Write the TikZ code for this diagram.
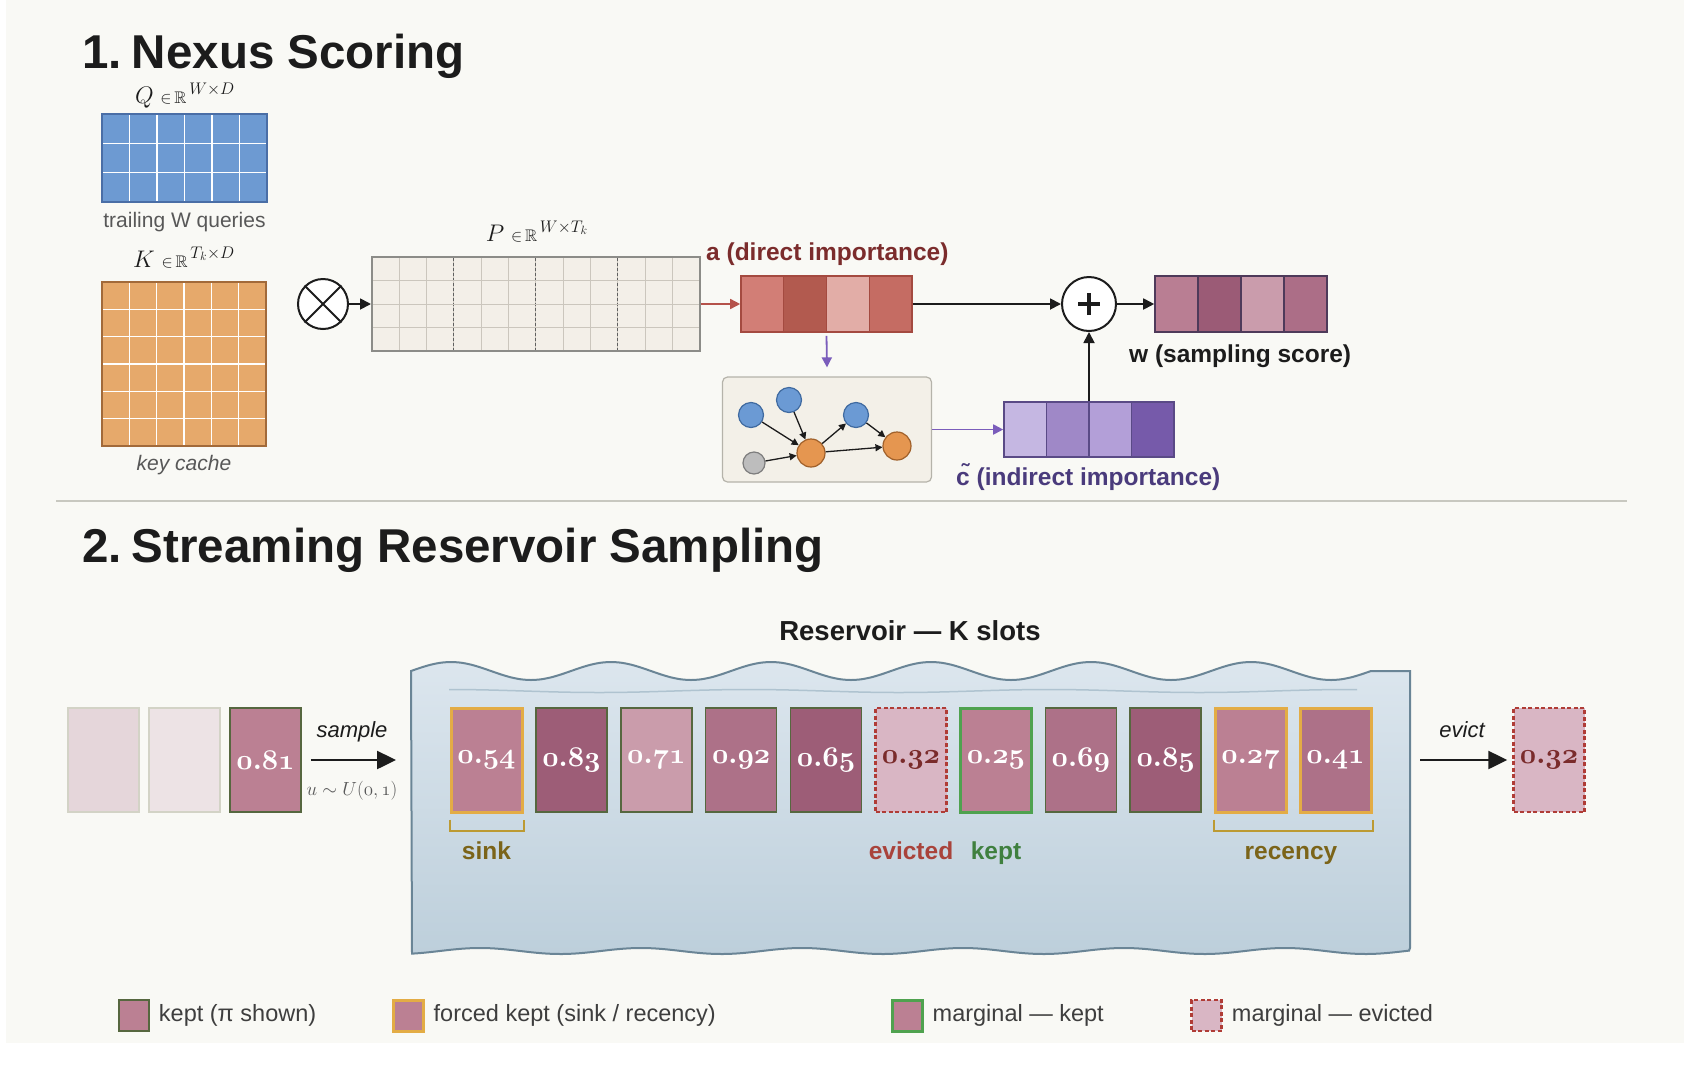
\documentclass[tikz,border=0pt]{standalone}
\usepackage{fix-cm}
\usepackage{amssymb}
\usepackage{fontspec}
\setmainfont{Liberation Sans}
\usetikzlibrary{arrows.meta,positioning}

\definecolor{paper}{HTML}{F9F9F5}
\definecolor{ink}{HTML}{1C1C1C}
\definecolor{notegray}{HTML}{585858}
\definecolor{qfillc}{HTML}{6D9AD2}
\definecolor{qedgec}{HTML}{4A6EA6}
\definecolor{kfillc}{HTML}{E6A96B}
\definecolor{kedgec}{HTML}{A26A3A}
\definecolor{pfillc}{HTML}{F3EFE8}
\definecolor{pgridc}{HTML}{CBC6BD}
\definecolor{pedgec}{HTML}{8C8C88}
\definecolor{aA}{HTML}{D27E76}
\definecolor{aB}{HTML}{B25A4F}
\definecolor{aC}{HTML}{E2ADA7}
\definecolor{aD}{HTML}{C56C63}
\definecolor{aedgec}{HTML}{A44A40}
\definecolor{atextc}{HTML}{7B2C2C}
\definecolor{rarrowc}{HTML}{B5524A}
\definecolor{wA}{HTML}{B97E93}
\definecolor{wB}{HTML}{9B5B76}
\definecolor{wC}{HTML}{CA9CAC}
\definecolor{wD}{HTML}{AC6E87}
\definecolor{wedgec}{HTML}{4E3A5A}
\definecolor{cA}{HTML}{C5B7E2}
\definecolor{cB}{HTML}{9F88C7}
\definecolor{cC}{HTML}{B39FD8}
\definecolor{cD}{HTML}{765AAA}
\definecolor{cedgec}{HTML}{5A4A86}
\definecolor{ctextc}{HTML}{4A3B7C}
\definecolor{parrowc}{HTML}{7B5DBB}
\definecolor{gfillc}{HTML}{F3F0E8}
\definecolor{gedgec}{HTML}{B5B3AA}
\definecolor{nblue}{HTML}{6B9AD4}
\definecolor{nblueedge}{HTML}{3F6AA0}
\definecolor{norange}{HTML}{E59650}
\definecolor{norangeedge}{HTML}{A0602A}
\definecolor{ngray}{HTML}{BDBDBD}
\definecolor{ngrayedge}{HTML}{7D7D7D}
\definecolor{resvtopc}{HTML}{DCE6EE}
\definecolor{resvbotc}{HTML}{BDCFDB}
\definecolor{resvedgec}{HTML}{6A8596}
\definecolor{resvlinec}{HTML}{AFC3D0}
\definecolor{pA}{HTML}{BB8093}
\definecolor{pB}{HTML}{9D5D77}
\definecolor{pC}{HTML}{CA9CAB}
\definecolor{pD}{HTML}{AD7188}
\definecolor{pE}{HTML}{D9B6C4}
\definecolor{keptedge}{HTML}{56673F}
\definecolor{forcededge}{HTML}{E3AC45}
\definecolor{margedge}{HTML}{4FA24F}
\definecolor{evictedge}{HTML}{B03C36}
\definecolor{evicttext}{HTML}{7A2B2B}
\definecolor{fadeA}{HTML}{E5D6DA}
\definecolor{fadeB}{HTML}{EDE3E5}
\definecolor{fadeedge}{HTML}{D3D3C6}
\definecolor{sinkc}{HTML}{7B6419}
\definecolor{bracketc}{HTML}{BC9A33}
\definecolor{evictc}{HTML}{A9433B}
\definecolor{keptc}{HTML}{3F803F}
\definecolor{sepc}{HTML}{C8C8C0}

% old-style bold digits; ':' sits where the period is in OML
\newcommand\slotfont{\fontsize{28.5}{30}\usefont{OML}{cmm}{b}{it}}

\tikzset{
  heading/.style={anchor=base west, inner sep=0pt, text=ink, font=\fontsize{47.5}{56}\selectfont\bfseries},
  mathlbl/.style={anchor=base, inner sep=0pt, text=ink, font=\fontsize{24}{28}\selectfont},
  note/.style={anchor=base, inner sep=0pt, text=notegray, font=\fontsize{21}{25}\selectfont},
  vtag/.style={anchor=base west, inner sep=0pt, font=\fontsize{24.5}{29}\selectfont\bfseries},
  marktext/.style={anchor=base, inner sep=0pt, font=\fontsize{24.5}{29}\selectfont\bfseries},
  flowlbl/.style={anchor=base, inner sep=0pt, text=ink, font=\fontsize{22}{26}\selectfont\itshape},
  lgtext/.style={anchor=west, inner sep=0pt, text=ink!85, font=\fontsize{23.5}{27}\selectfont},
  mat/.style={draw, line width=2pt, inner sep=0pt},
  whitegrid/.style={draw=white, line width=1.6pt},
  pgridline/.style={draw=pgridc, line width=1pt},
  pdashline/.style={draw=ink!70, line width=1pt, dash pattern=on 3pt off 2pt},
  cell/.style={line width=1.2pt},
  vecbox/.style={draw, line width=1.6pt, inner sep=0pt, minimum height=56pt},
  opnode/.style={circle, draw=ink, line width=2pt, fill=white, inner sep=0pt},
  arr/.style={draw=ink, line width=1.8pt, -{Triangle[length=11pt,width=11pt]}},
  redarr/.style={draw=rarrowc, line width=1.5pt, -{Triangle[length=10pt,width=10pt]}},
  purarr/.style={draw=parrowc, line width=1.8pt, -{Triangle[length=10pt,width=10pt]}},
  gbox/.style={draw=gedgec, fill=gfillc, line width=1.2pt, rounded corners=5pt, inner sep=0pt},
  gnode/.style={circle, line width=1.2pt, inner sep=0pt},
  bnode/.style={gnode, fill=nblue, draw=nblueedge, minimum size=25pt},
  onode/.style={gnode, fill=norange, draw=norangeedge, minimum size=28pt},
  xnode/.style={gnode, fill=ngray, draw=ngrayedge, minimum size=22pt},
  garr/.style={draw=ink, line width=1.3pt, -{Triangle[length=7pt,width=7pt]}},
  resv/.style={draw=resvedgec, line width=2pt, top color=resvtopc, bottom color=resvbotc},
  slot/.style={minimum width=71pt, minimum height=104pt, inner sep=0pt, text=white, font=\slotfont},
  kept/.style={slot, draw=keptedge, line width=1.5pt},
  forced/.style={slot, draw=forcededge, line width=3pt},
  margkept/.style={slot, draw=margedge, line width=3pt},
  evicted/.style={slot, draw=evictedge, line width=2.5pt, dash pattern=on 4pt off 2.5pt, fill=pE, text=evicttext},
  faded/.style={slot, draw=fadeedge, line width=1.5pt},
  bigarr/.style={draw=ink, line width=2.5pt, -{Triangle[length=19pt,width=18pt]}},
  bracket/.style={draw=bracketc, line width=2pt},
  lgbox/.style={minimum width=30pt, minimum height=31pt},
}

\begin{document}
\begin{tikzpicture}[x=1pt,y=-1pt]
\useasboundingbox (0,0) rectangle (1684,1066);
\fill[white] (0,0) rectangle (1684,1066);
\fill[paper] (6,0) rectangle (1684,1043);

% 1. Nexus scoring
\node[heading] (title1) at (82,68) {1.\kern-3pt\ Nexus Scoring};

% query matrix
\node[mathlbl] (qlbl) at (185,103) {$Q\;{\scriptstyle\in\,\mathbb{R}}^{\,W\times D}$};
\node[mat, fill=qfillc, draw=qedgec, minimum width=165pt, minimum height=88pt] (Q) at (184.5,158) {};
\foreach \i in {1,...,5} \draw[whitegrid] (102+27.5*\i,115) -- ++(0,86);
\foreach \j in {1,2} \draw[whitegrid] (103,114+29.33*\j) -- ++(163,0);
\node[note] (qnote) at (184.5,227) {trailing W queries};

% key matrix
\node[mathlbl] (klbl) at (184,267) {$K\;{\scriptstyle\in\,\mathbb{R}}^{\,T_k\times D}$};
\node[mat, fill=kfillc, draw=kedgec, minimum width=164pt, minimum height=164pt] (K) at (184,364) {};
\foreach \i in {1,...,5} {
  \draw[whitegrid] (102+27.33*\i,283) -- ++(0,162);
  \draw[whitegrid] (103,282+27.33*\i) -- ++(162,0);
}
\node[note, font=\fontsize{21}{25}\selectfont\itshape] (knote) at (184,470) {key cache};

% product and score matrix
\node[opnode, minimum size=50pt] (mul) at (323,304) {};
\draw[ink, line width=2pt] (mul.north west) -- (mul.south east) (mul.north east) -- (mul.south west);
\node[mathlbl] (plbl) at (537,241) {$P\;{\scriptstyle\in\,\mathbb{R}}^{\,W\times T_k}$};
\node[mat, fill=pfillc, draw=pedgec, minimum width=328pt, minimum height=94pt] (Pmat) at (536,304) {};
\foreach \i in {1,...,11} \draw[pgridline] (372+27.33*\i,258) -- ++(0,92);
\foreach \i in {3,6,9} \draw[pdashline] (372+27.33*\i,258) -- ++(0,92);
\foreach \j in {1,2,3} \draw[pgridline] (373,257+23.5*\j) -- ++(326,0);
\draw[arr] (mul) -- (Pmat);

% direct importance
\node[vtag, text=atextc] (atag) at (706,260) {a (direct importance)};
\foreach \c [count=\i from 0] in {aA,aB,aC,aD}
  \filldraw[cell, fill=\c, draw=aedgec] (741+42.75*\i,276) rectangle ++(42.75,56);
\node[vecbox, draw=aedgec, minimum width=171pt] (avec) at (826.5,304) {};
\draw[redarr] (Pmat) -- (avec);

% sampling score
\node[opnode, minimum size=54pt] (plus) at (1089,304) {};
\draw[ink, line width=4.5pt] ([xshift=-11pt]plus.center) -- ([xshift=11pt]plus.center)
  ([yshift=-11pt]plus.center) -- ([yshift=11pt]plus.center);
\foreach \c [count=\i from 0] in {wA,wB,wC,wD}
  \filldraw[cell, fill=\c, draw=wedgec] (1155+43*\i,276) rectangle ++(43,56);
\node[vecbox, draw=wedgec, minimum width=172pt] (wvec) at (1241,304) {};
\node[vtag, text=ink] (wtag) at (1129,362) {w (sampling score)};
\draw[arr] (avec) -- (plus);
\draw[arr] (plus) -- (wvec);

% token graph
\node[gbox, minimum width=209pt, minimum height=105pt] (gbox) at (827,429.5) {};
\node[bnode] (b1) at (751,415) {};
\node[bnode] (b2) at (789,400) {};
\node[bnode] (b3) at (856,415) {};
\node[xnode] (x1) at (754,463) {};
\node[onode] (o1) at (811,453) {};
\node[onode] (o2) at (897,446) {};
\foreach \ga/\gb in {b1/o1, b2/o1, x1/o1, o1/b3, b3/o2, o1/o2}
  \draw[garr] (\ga) -- (\gb);
\draw[purarr] ([yshift=-3pt]avec.south) -- ([yshift=9pt]gbox.north);

% indirect importance
\foreach \c [count=\i from 0] in {cA,cB,cC,cD}
  \filldraw[cell, fill=\c, draw=cedgec] (1004+42.5*\i,402) rectangle ++(42.5,55);
\node[vecbox, draw=cedgec, minimum width=170pt, minimum height=55pt] (cvec) at (1089,429.5) {};
\node[vtag, text=ctextc] (ctag) at (956,485) {c̃ (indirect importance)};
\draw[purarr] (gbox) -- (cvec);
\draw[arr] (cvec) -- (plus);

\draw[sepc, line width=1.5pt] (56,501) -- (1627,501);

% 2. Streaming reservoir sampling
\node[heading] (title2) at (82,562) {2.\kern-3pt\ Streaming Reservoir Sampling};
\node[marktext, text=ink, font=\fontsize{27.5}{32}\selectfont\bfseries] (resvlbl) at (910,640) {Reservoir — K slots};

% reservoir tank
\draw[resv] (411,671)
  -- plot[domain=411:1371, samples=97, smooth] (\x,{671-9*cos(2.25*(\x-451))})
  -- (1410,671) -- (1410,948)
  -- plot[domain=1409:412, samples=100, smooth] (\x,{951-3*cos(2.236*(\x-480))})
  -- cycle;
\draw[resvlinec, line width=1.5pt] plot[domain=449:1357, samples=60, smooth] (\x,{691-1.5*cos(1.2*(\x-449))});

% incoming stream
\node[faded, fill=fadeA] (in0) at (103.5,760) {};
\node[faded, fill=fadeB] (in1) at (184.5,760) {};
\node[kept, fill=pA] (in2) at (265.5,760) {0:81};
\coordinate (smpend) at (396,760);
\draw[bigarr] ([xshift=9pt]in2.east) -- (smpend);
\node[flowlbl] (smplbl) at (352,737) {sample};
\node[mathlbl, text=notegray, font=\fontsize{19}{24}\selectfont] (unif) at (352,795) {$u\sim U(\mathnormal{0},\mathnormal{1})$};

% slots
\foreach \val/\f/\s [count=\i from 0] in {0:54/pA/forced, 0:83/pB/kept, 0:71/pC/kept, 0:92/pD/kept,
    0:65/pB/kept, 0:32/pE/evicted, 0:25/pA/margkept, 0:69/pD/kept, 0:85/pB/kept, 0:27/pA/forced, 0:41/pD/forced}
  \node[\s, fill=\f] (s\i) at (486.5+84.9*\i,760) {\val};

\draw[bracket] ([yshift=-6pt]s0.south west) -- ++(0,11) -| ([yshift=-6pt]s0.south east);
\draw[bracket] ([yshift=-6pt]s9.south west) -- ++(0,11) -| ([yshift=-6pt]s10.south east);
\node[marktext, text=sinkc] (sinklbl) at (486.5,859) {sink};
\node[marktext, text=evictc] (evlbl) at (911,859) {evicted};
\node[marktext, text=keptc] (kplbl) at (996,859) {kept};
\node[marktext, text=sinkc] (reclbl) at (1291,859) {recency};

% eviction
\coordinate (evstart) at (1420,760);
\node[evicted] (out) at (1549,760) {0:32};
\draw[bigarr] (evstart) -- ([xshift=-5pt]out.west);
\node[flowlbl] (evtxt) at (1462,737) {evict};

% legend
\node[kept, lgbox, fill=pA] (lg1) at (134,1015.5) {};
\node[lgtext, right=9pt of lg1] (lgt1) {kept (π shown)};
\node[forced, lgbox, fill=pA] (lg2) at (408,1015.5) {};
\node[lgtext, right=9pt of lg2] (lgt2) {forced kept (sink / recency)};
\node[margkept, lgbox, fill=pA] (lg3) at (907,1015.5) {};
\node[lgtext, right=9pt of lg3] (lgt3) {marginal — kept};
\node[evicted, lgbox] (lg4) at (1206.5,1015.5) {};
\node[lgtext, right=9pt of lg4] (lgt4) {marginal — evicted};
\end{tikzpicture}
\end{document}
